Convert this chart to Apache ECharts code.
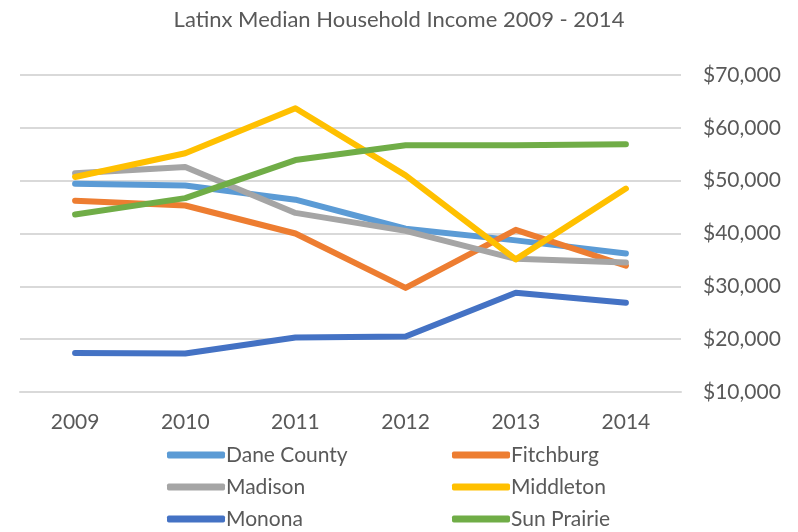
<!DOCTYPE html>
<html>
<head>
<meta charset="utf-8">
<script src="https://cdn.jsdelivr.net/npm/echarts@6/dist/echarts.min.js"></script>
<style>
  html, body { margin: 0; padding: 0; background: #fff; }
  #main { width: 798px; height: 532px; }
</style>
</head>
<body>
<div id="main"></div>
<script>
// values
var years = ['2009', '2010', '2011', '2012', '2013', '2014'];
var daneCounty = [49400, 49100, 46400, 40900, 38700, 36200];
var fitchburg = [46200, 45300, 40000, 29700, 40700, 33900];
var madison = [51400, 52600, 43900, 40500, 35200, 34500];
var middleton = [50700, 55200, 63700, 51000, 35100, 48500];
var monona = [17400, 17300, 20300, 20500, 28800, 26900];
var sunPrairie = [43600, 46700, 53900, 56700, 56700, 56900];

var font = 'Lato';
var textColor = '#595959';

function line(name, data, color) {
    return {
        name: name,
        type: 'line',
        data: data,
        color: color,
        symbol: 'none',
        lineStyle: { width: 6, color: color, cap: 'round', join: 'round' }
    };
}

var myChart = echarts.init(document.getElementById('main'));
var legendBase = {
    orient: 'vertical',
    top: 438,
    height: 120,
    icon: 'roundRect',
    itemWidth: 58,
    itemHeight: 7,
    itemGap: 8,
    textStyle: { fontFamily: font, fontSize: 21, color: textColor, lineHeight: 24, padding: [0, 0, 0, -4] }
};

var option = {
    backgroundColor: '#fff',
    title: {
        text: 'Latinx Median Household Income 2009 - 2014',
        left: 'center',
        top: 4,
        textStyle: { fontFamily: font, fontSize: 22, fontWeight: 'normal', color: textColor }
    },
    legend: [
        Object.assign({}, legendBase, { left: 162, data: ['Dane County', 'Madison', 'Monona'] }),
        Object.assign({}, legendBase, { left: 447, data: ['Fitchburg', 'Middleton', 'Sun Prairie'] })
    ],
    grid: { left: 20, right: 117, top: 75, bottom: 140 },
    xAxis: {
        type: 'category',
        data: years,
        boundaryGap: true,
        axisLine: { lineStyle: { color: '#d9d9d9', width: 2 } },
        axisTick: { show: false },
        axisLabel: { fontFamily: font, fontSize: 21, color: textColor, margin: 20 }
    },
    yAxis: {
        type: 'value',
        position: 'right',
        min: 10000,
        max: 70000,
        interval: 10000,
        axisLine: { show: false },
        axisTick: { show: false },
        splitLine: { lineStyle: { color: '#d9d9d9', width: 2 } },
        axisLabel: {
            fontFamily: font, fontSize: 21, color: textColor, margin: 22,
            formatter: function (v) { return '$' + v.toLocaleString('en-US'); }
        }
    },
    series: [
        line('Dane County', daneCounty, '#5B9BD5'),
        line('Fitchburg', fitchburg, '#ED7D31'),
        line('Madison', madison, '#A5A5A5'),
        line('Middleton', middleton, '#FFC000'),
        line('Monona', monona, '#4472C4'),
        line('Sun Prairie', sunPrairie, '#70AD47')
    ]
};

myChart.setOption(option);
</script>
</body>
</html>
